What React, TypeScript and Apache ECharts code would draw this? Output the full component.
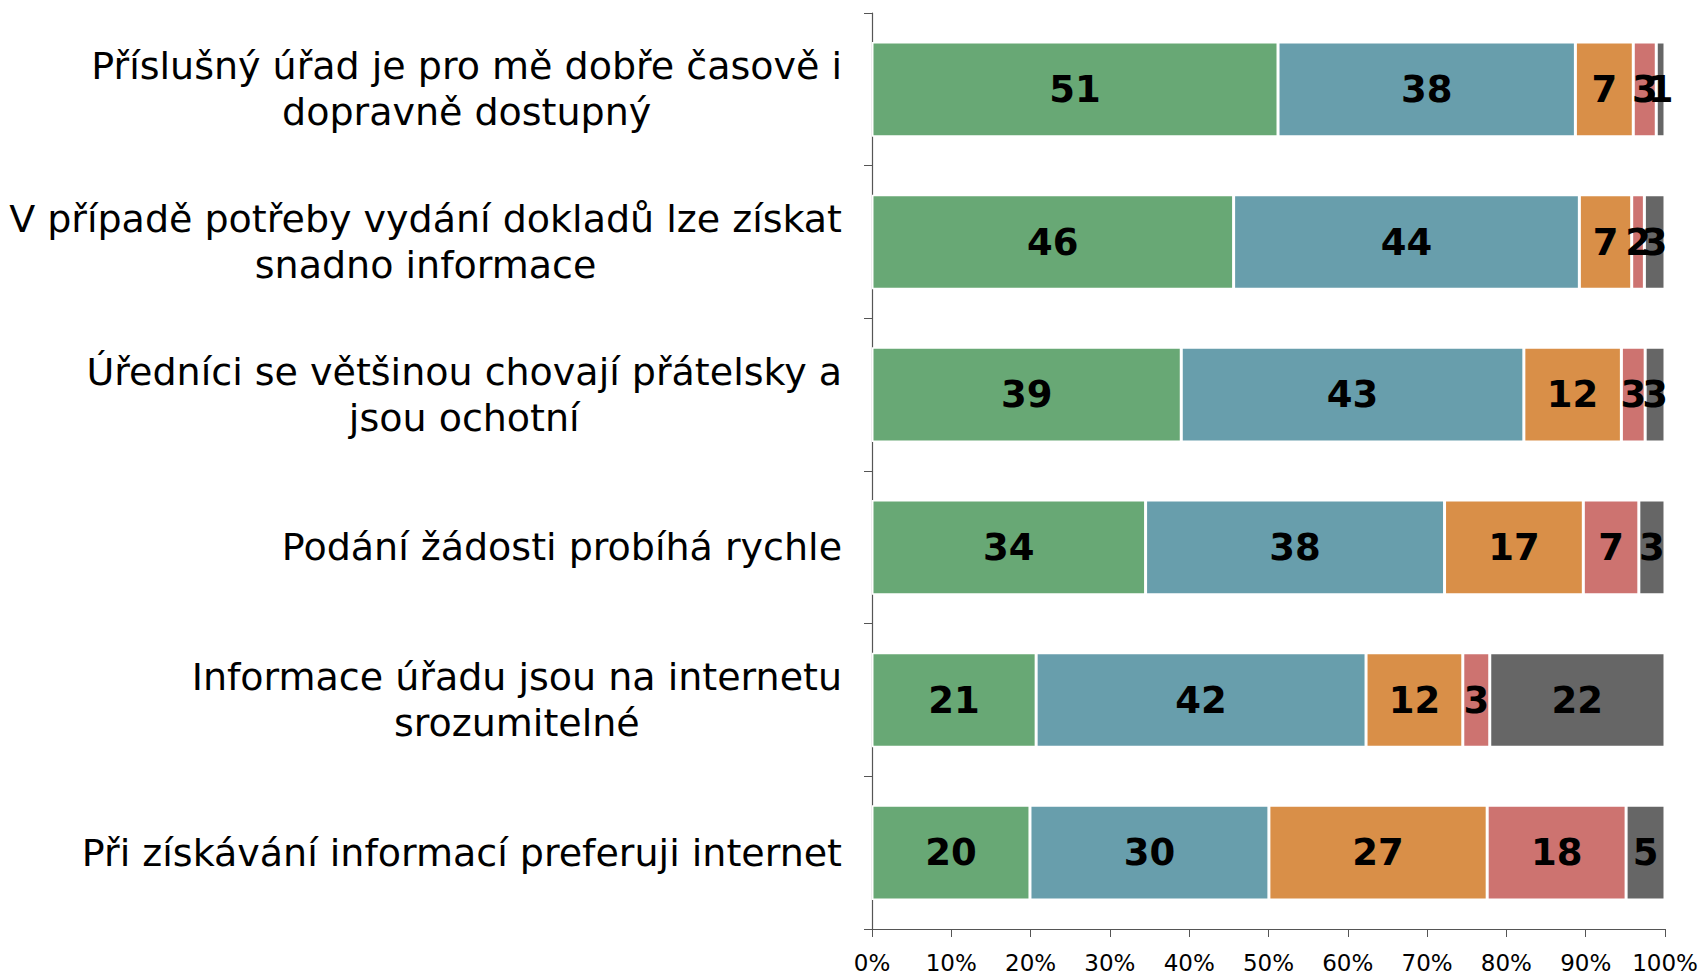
import React, { useEffect, useRef } from "react";
import * as echarts from "echarts";

const categories = [
  "Příslušný úřad je pro mě dobře časově i\ndopravně dostupný",
  "V případě potřeby vydání dokladů lze získat\nsnadno informace",
  "Úředníci se většinou chovají přátelsky a\njsou ochotní",
  "Podání žádosti probíhá rychle",
  "Informace úřadu jsou na internetu\nsrozumitelné",
  "Při získávání informací preferuji internet",
];

const seriesNames = ["1", "2", "3", "4", "5"];

// printed labels (rounded percentages)
const labels1 = [51, 46, 39, 34, 21, 20];
const labels2 = [38, 44, 43, 38, 42, 30];
const labels3 = [7, 7, 12, 17, 12, 27];
const labels4 = [3, 2, 3, 7, 3, 18];
const labels5 = [1, 3, 3, 3, 22, 5];

// bar shares (percent of row)
const shares1 = [51.2, 45.6, 39.0, 34.5, 20.7, 19.9];
const shares2 = [37.5, 43.6, 43.2, 37.7, 41.6, 30.1];
const shares3 = [7.3, 6.6, 12.3, 17.5, 12.2, 27.5];
const shares4 = [2.9, 1.6, 3.0, 7.0, 3.4, 17.5];
const shares5 = [1.1, 2.6, 2.5, 3.3, 22.1, 4.9];

const colors = ["#68a875", "#689eac", "#d98f48", "#cd7370", "#666666"];

const FONT = "'DejaVu Sans', Verdana, sans-serif";

export default function App() {
  const ref = useRef<HTMLDivElement>(null);
  useEffect(() => {
    document.body.style.margin = "0";
    if (!ref.current) return;
    const chart = echarts.init(ref.current, undefined, { renderer: "svg" });
    const shares = [shares1, shares2, shares3, shares4, shares5];
    const labels = [labels1, labels2, labels3, labels4, labels5];
    const sums = categories.map((_, i) => shares.reduce((s, arr) => s + arr[i], 0));
    const series = shares.map((arr, si) => ({
      name: seriesNames[si],
      type: "bar",
      stack: "total",
      barWidth: "62%",
      data: arr.map((v, i) => ({ value: (v / sums[i]) * 100, raw: labels[si][i] })),
      itemStyle: { color: colors[si], borderColor: "#ffffff", borderWidth: 1.5 },
      label: {
        show: true,
        position: "inside",
        color: "#000",
        fontFamily: FONT,
        fontWeight: "bold",
        fontSize: 37,
        formatter: (p: any) => String(p.data.raw),
      },
    }));
    chart.setOption({
      animation: false,
      backgroundColor: "#ffffff",
      grid: { left: 872, right: 38, top: 13, bottom: 45, containLabel: false },
      xAxis: {
        type: "value",
        min: 0,
        max: 100,
        interval: 10,
        splitLine: { show: false },
        axisLine: { show: true, lineStyle: { color: "#555", width: 1.2 } },
        axisTick: { show: true, length: 8, lineStyle: { color: "#555" } },
        axisLabel: {
          formatter: "{value}%",
          color: "#000",
          fontFamily: FONT,
          fontSize: 23,
          margin: 22,
        },
      },
      yAxis: {
        type: "category",
        inverse: true,
        data: categories,
        axisLine: { show: true, lineStyle: { color: "#555", width: 1.2 } },
        axisTick: { show: true, length: 8, lineStyle: { color: "#555" } },
        axisLabel: {
          align: "right",
          margin: 30,
          color: "#000",
          fontFamily: FONT,
          fontSize: 38,
          lineHeight: 46,
          formatter: (v: string) =>
            v
              .split("\n")
              .map((l) => `{c|${l}}`)
              .join("\n"),
          rich: {
            c: {
              align: "center",
              color: "#000",
              fontFamily: FONT,
              fontSize: 38,
              lineHeight: 46,
            },
          },
        },
      },
      series,
    });
    return () => chart.dispose();
  }, []);
  return <div ref={ref} style={{ width: 1703, height: 974 }} />;
}
